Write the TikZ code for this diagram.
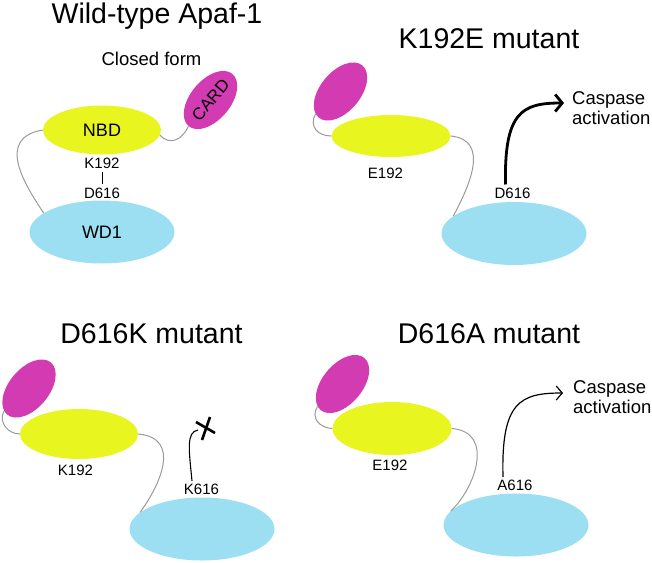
\documentclass[tikz,border=0pt]{standalone}
\usepackage{fontspec}
\setmainfont{Liberation Sans}
\usetikzlibrary{shapes.geometric,arrows.meta,calc}
\definecolor{nbdcol}{HTML}{E8F51F}
\definecolor{cardcol}{HTML}{D23BB2}
\definecolor{wdcol}{HTML}{9CDEF2}
\definecolor{linkcol}{HTML}{9A9A9A}
\tikzset{
  nbd/.style={ellipse, fill=nbdcol, inner sep=0pt, font=\fontsize{18}{20}\selectfont},
  card/.style={ellipse, fill=cardcol, inner sep=0pt, minimum width=68pt, minimum height=40pt, rotate=50, font=\fontsize{17}{19}\selectfont},
  wd/.style={ellipse, fill=wdcol, inner sep=0pt, minimum width=145pt, minimum height=63pt, font=\fontsize{18}{20}\selectfont},
  linker/.style={draw=linkcol, line width=1pt},
  res/.style={inner sep=2pt, font=\fontsize{15}{17}\selectfont},
  ttl/.style={anchor=base, inner sep=0pt, font=\fontsize{28.5}{32}\selectfont},
  casp/.style={anchor=west, align=left, inner sep=0pt, font=\fontsize{18.5}{20}\selectfont},
  thickarrow/.style={line width=2.8pt, -{Straight Barb[length=7pt,width=17pt,line width=2.8pt]}},
  thinarrow/.style={line width=1.2pt, -{Straight Barb[length=6pt,width=14pt,line width=1.2pt]}},
  xmark/.style={line width=2.6pt}
}
\begin{document}
\begin{tikzpicture}[x=1pt,y=-1pt]
\useasboundingbox (0,0) rectangle (652,562);

% ---------- Panel 1: Wild-type ----------
\node[ttl] (t1) at (157,23) {Wild-type Apaf-1};
\node[anchor=base, inner sep=0pt, font=\fontsize{18.5}{20}\selectfont] (cf) at (151.5,65) {Closed form};
\node[nbd, minimum width=118pt, minimum height=49pt] (nbd1) at (102,130) {NBD};
\node[card] (card1) at (210.5,100) {CARD};
\node[wd] (wd1) at (102,232) {WD1};
\node[res] (k1) at (102,163) {K192};
\node[res] (d1) at (102,193) {D616};
\draw[line width=0.6pt, shorten <=1pt, shorten >=1pt] (k1.south) -- (d1.north);
\draw[linker] (nbd1.-5) .. controls (170,146) and (182,140) .. (card1.west);
\draw[linker] (nbd1.west) .. controls (-5,138) and (25,185) .. (wd1.162);

% ---------- Panel 2: K192E ----------
\node[ttl] (t2) at (489,48) {K192E mutant};
\node[card] (card2) at (340.5,91.5) {};
\node[nbd, minimum width=119pt, minimum height=42pt] (nbd2) at (391,136) {};
\node[wd] (wd2) at (514,233.5) {};
\node[res] (e2) at (385.5,173) {E192};
\node[res] (d2) at (512.5,193) {D616};
\draw[linker] (card2.172) .. controls (309,126) and (317,136) .. (nbd2.west);
\draw[linker] (nbd2.east) .. controls (490,140) and (470,185) .. (wd2.164);
\node[casp] (c2) at (572,108) {Caspase\\activation};
\draw[thickarrow] ($(d2.north)+(-7,-1)$) .. controls (504,112) and (522,103) .. ($(c2.west)+(-8,-5)$);

% ---------- Panel 3: D616K ----------
\node[ttl] (t3) at (151.5,343) {D616K mutant};
\node[card] (card3) at (29,388.5) {};
\node[nbd, minimum width=118pt, minimum height=50pt] (nbd3) at (79,434) {};
\node[wd] (wd3) at (202,529) {};
\node[res] (k3) at (75.5,470) {K192};
\node[res] (k616) at (201.5,489.5) {K616};
\draw[linker] (card3.172) .. controls (-2,422) and (8,434) .. (nbd3.west);
\draw[linker] (nbd3.east) .. controls (182,438) and (160,485) .. (wd3.165);
\coordinate (xa) at (196,422);
\coordinate (xb) at (215,433);
\coordinate (xc) at (210,417);
\coordinate (xd) at (202,440);
\coordinate (xend) at (198,430);
\draw[line width=1.1pt] ($(k616.north)+(-9.5,-1)$) .. controls (189,450) and (186,432) .. (xend);
\draw[xmark] (xa) -- (xb);
\draw[xmark] (xc) -- (xd);

% ---------- Panel 4: D616A ----------
\node[ttl] (t4) at (489,343) {D616A mutant};
\node[card] (card4) at (342.5,384) {};
\node[nbd, minimum width=119pt, minimum height=53pt] (nbd4) at (392,428.5) {};
\node[wd] (wd4) at (516,525) {};
\node[res] (e4) at (390,465.5) {E192};
\node[res] (a4) at (515,485.5) {A616};
\draw[linker] (card4.172) .. controls (310,418) and (320,428) .. (nbd4.west);
\draw[linker] (nbd4.east) .. controls (496,432) and (474,490) .. (wd4.168);
\node[casp] (c4) at (573,397) {Caspase\\activation};
\draw[thinarrow] ($(a4.north)+(-12,-1)$) .. controls (501,402) and (520,393) .. ($(c4.west)+(-10,-4)$);
\end{tikzpicture}
\end{document}
